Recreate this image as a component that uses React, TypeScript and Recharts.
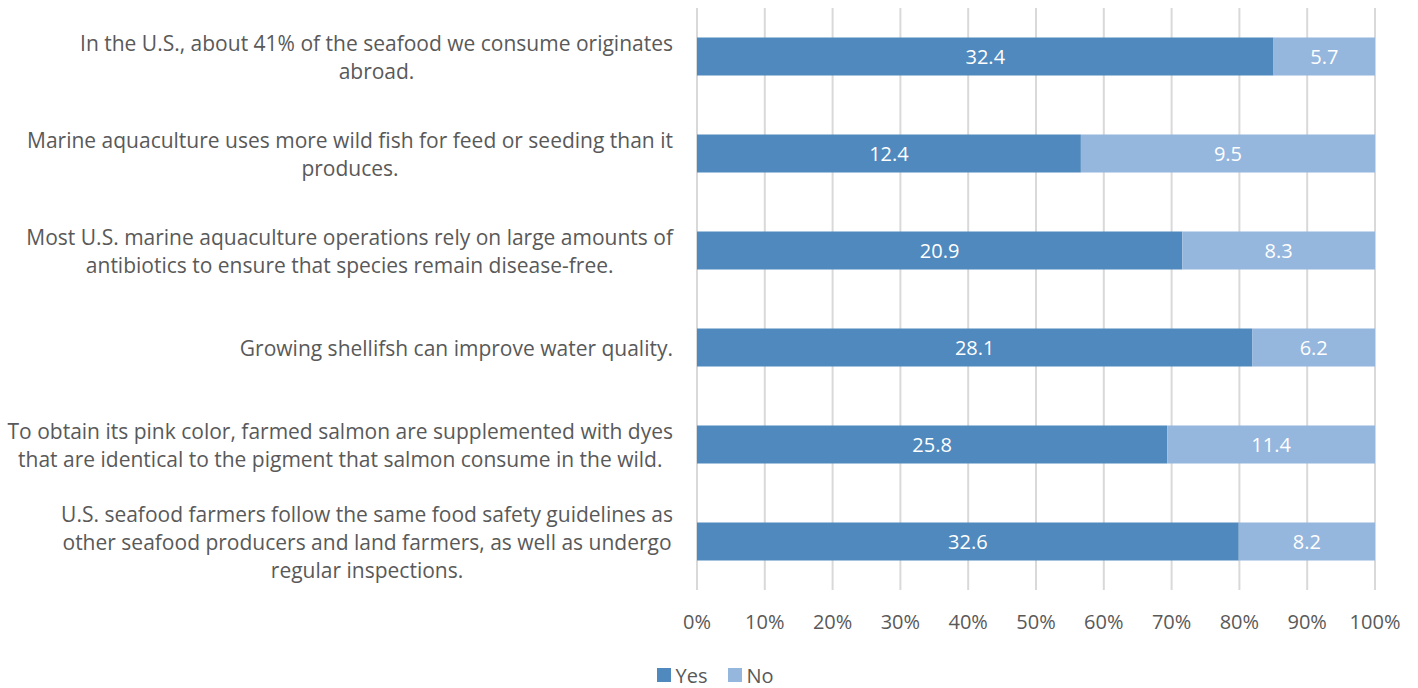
import React from "react";
import {
  BarChart,
  Bar,
  XAxis,
  YAxis,
  CartesianGrid,
  Legend,
  LabelList,
} from "recharts";

const statements: string[][] = [
  ["In the U.S., about 41% of the seafood we consume originates", "abroad."],
  ["Marine aquaculture uses more wild fish for feed or seeding than it", "produces."],
  [
    "Most U.S. marine aquaculture operations rely on large amounts of",
    "antibiotics to ensure that species remain disease-free.",
  ],
  ["Growing shellifsh can improve water quality."],
  [
    "To obtain its pink color, farmed salmon are supplemented with dyes",
    "that are identical to the pigment that salmon consume in the wild.",
  ],
  [
    "U.S. seafood farmers follow the same food safety guidelines as",
    "other seafood producers and land farmers, as well as undergo",
    "regular inspections.",
  ],
];
const yesValues = [32.4, 12.4, 20.9, 28.1, 25.8, 32.6];
const noValues = [5.7, 9.5, 8.3, 6.2, 11.4, 8.2];
const xTicks = [0, 0.1, 0.2, 0.3, 0.4, 0.5, 0.6, 0.7, 0.8, 0.9, 1];

const FONT = "'Open Sans', sans-serif";
const TEXT = "#595959";
const YES = "#4f89bd";
const NO = "#95b6dd";
const LABEL_SIZE = 21;

const data = statements.map((lines, i) => ({
  key: String(i),
  yes: yesValues[i],
  no: noValues[i],
}));

let ctx: CanvasRenderingContext2D | null = null;
const measure = (s: string) => {
  if (!ctx) ctx = document.createElement("canvas").getContext("2d");
  if (!ctx) return s.length * 10;
  ctx.font = `${LABEL_SIZE}px ${FONT}`;
  return ctx.measureText(s).width;
};

const StatementTick = (props: any) => {
  const { x, y, payload } = props;
  const lines = statements[Number(payload.value)] || [];
  const maxW = Math.max(...lines.map(measure));
  const cx = x - 16 - maxW / 2;
  const lh = 28;
  const startY = y - ((lines.length - 1) * lh) / 2;
  return (
    <text
      x={cx}
      y={startY}
      textAnchor="middle"
      fill={TEXT}
      fontSize={LABEL_SIZE}
      fontFamily={FONT}
      dominantBaseline="central"
    >
      {lines.map((l, i) => (
        <tspan key={i} x={cx} y={startY + i * lh} dominantBaseline="central">
          {l}
        </tspan>
      ))}
    </text>
  );
};

const LegendContent = () => (
  <div
    style={{
      height: 26,
      display: "flex",
      justifyContent: "center",
      alignItems: "center",
      gap: 21,
      paddingLeft: 56,
      fontFamily: FONT,
      fontSize: 20,
      color: TEXT,
    }}
  >
    {[
      ["Yes", YES],
      ["No", NO],
    ].map(([name, c]) => (
      <span key={name} style={{ display: "flex", alignItems: "center", gap: 4 }}>
        <span style={{ width: 14, height: 14, background: c, display: "inline-block" }} />
        {name}
      </span>
    ))}
  </div>
);

export default function App() {
  return (
    <div style={{ position: "absolute", left: 0, top: 0, width: 1418, height: 688, background: "#fff" }}>
      <BarChart
        width={1418}
        height={688}
        data={data}
        layout="vertical"
        stackOffset="expand"
        barCategoryGap="30.5%"
        margin={{ top: 8, right: 43, bottom: 0, left: 0 }}
      >
        <CartesianGrid horizontal={false} stroke="#d9d9d9" strokeWidth={2} />
        <XAxis
          type="number"
          domain={[0, 1]}
          ticks={xTicks}
          tickFormatter={(v) => `${Math.round(v * 100)}%`}
          axisLine={false}
          tickLine={false}
          tickMargin={19}
          height={72}
          tick={{ fill: TEXT, fontSize: 20, fontFamily: FONT }}
          interval={0}
        />
        <YAxis
          type="category"
          dataKey="key"
          width={697}
          axisLine={false}
          tickLine={false}
          tick={<StatementTick />}
          interval={0}
        />
        <Legend verticalAlign="bottom" height={26} content={<LegendContent />} />
        <Bar dataKey="yes" stackId="a" fill={YES} isAnimationActive={false}>
          <LabelList dataKey="yes" position="center" fill="#fff" fontSize={20} fontFamily={FONT} />
        </Bar>
        <Bar dataKey="no" stackId="a" fill={NO} isAnimationActive={false}>
          <LabelList dataKey="no" position="center" fill="#fff" fontSize={20} fontFamily={FONT} />
        </Bar>
      </BarChart>
    </div>
  );
}
